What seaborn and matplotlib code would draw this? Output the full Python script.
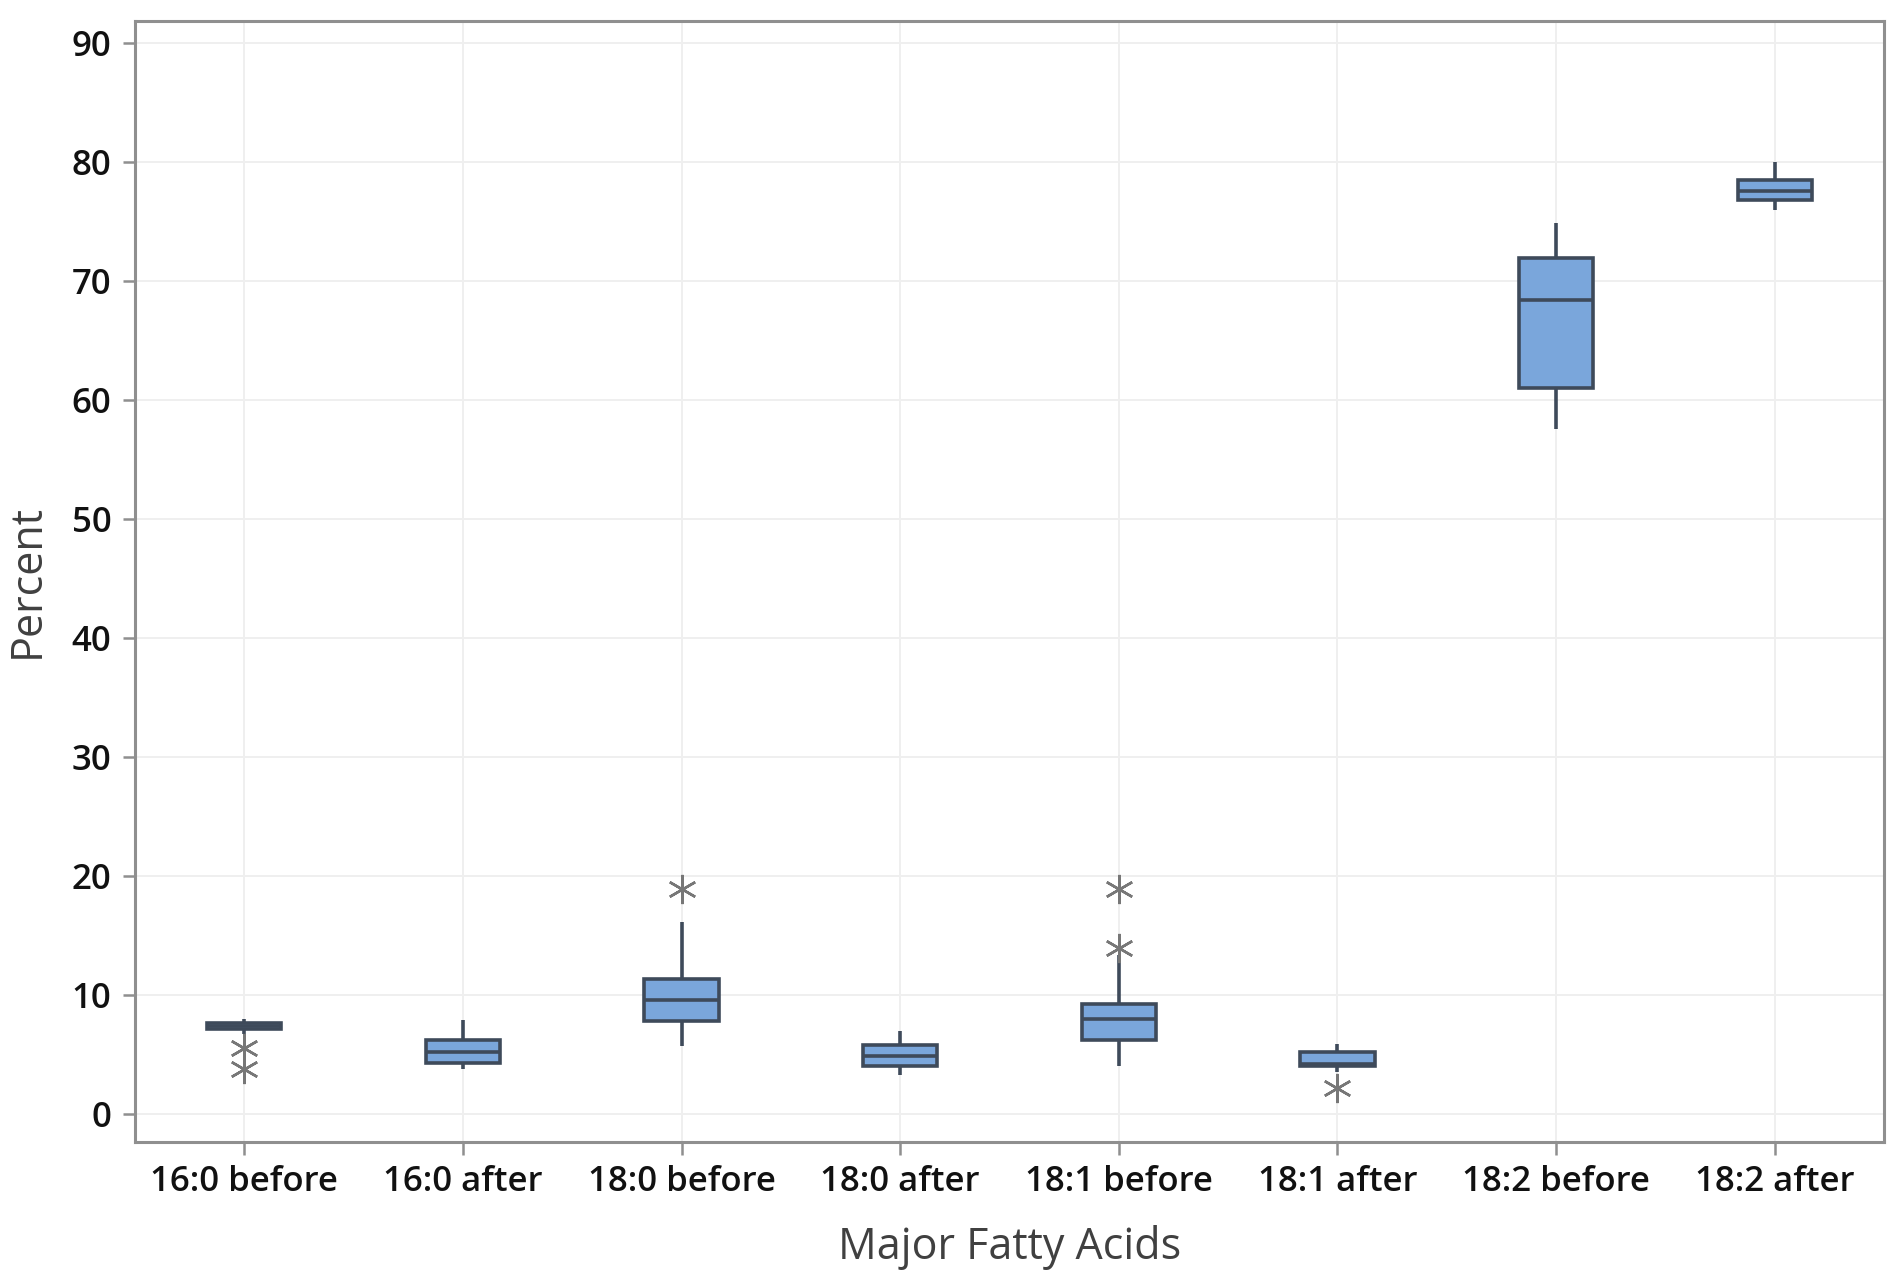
import numpy as np
import pandas as pd
import matplotlib
matplotlib.use("Agg")
import matplotlib.pyplot as plt
import seaborn as sns

# ---- data (Percent) ----
categories = ["16:0 before", "16:0 after", "18:0 before", "18:0 after",
              "18:1 before", "18:1 after", "18:2 before", "18:2 after"]
whisker_low  = [6.7, 3.8, 5.7, 3.3, 4.0, 3.55, 57.6, 76.0]
quartile_1   = [7.1, 4.25, 7.8, 4.0, 6.2, 4.05, 61.0, 76.8]
medians      = [7.35, 5.2, 9.6, 4.85, 7.95, 4.2, 68.4, 77.6]
quartile_3   = [7.65, 6.2, 11.3, 5.8, 9.2, 5.2, 72.0, 78.5]
whisker_high = [7.95, 7.9, 16.1, 7.0, 13.35, 5.9, 74.9, 80.0]
low_outliers  = [[5.5, 3.8], [], [], [], [], [2.2], [], []]
high_outliers = [[], [], [18.9], [], [13.9, 18.9], [], [], []]

# Build long-form samples made only of the read values, repeated so that
# numpy's linear quantiles land exactly on the read quartiles (n = 13).
rows = []
for i, cat in enumerate(categories):
    lo, hi = sorted(low_outliers[i]), sorted(high_outliers[i])
    m = 3
    n = 4 * m + 1
    vals = list(lo) + [whisker_low[i]]
    vals += [quartile_1[i]] * (m + 1 - len(vals))
    vals += [medians[i]] * m
    vals += [quartile_3[i]] * m
    vals += [whisker_high[i]] * (n - len(hi) - len(vals))
    vals += list(hi)
    for v in vals:
        rows.append((cat, v))
df = pd.DataFrame(rows, columns=["Acid", "Percent"])

# ---- style ----
sns.set_theme(style="white")
plt.rcParams["font.family"] = ["Open Sans", "DejaVu Sans"]

fig = plt.figure(figsize=(18.9, 12.75), dpi=100)
ax = fig.add_axes([135 / 1890, 1 - 1141.5 / 1275, (1884 - 135) / 1890, (1141.5 - 20.5) / 1275])

fill = "#7AA6DB"
edge = "#3E4A5A"

sns.boxplot(data=df, x="Acid", y="Percent", order=categories, ax=ax,
            color=fill, saturation=1, width=0.34, whis=1.5,
            linewidth=2.6, linecolor=edge, showcaps=False,
            flierprops=dict(marker=(6, 2, 0), markersize=21,
                            markeredgecolor="#777777", markerfacecolor="#777777",
                            markeredgewidth=1.8))

ax.set_axisbelow(True)
ax.grid(True, axis="both", color="#efefef", linewidth=1.4)
ax.xaxis.grid(True, color="#efefef", linewidth=1.4)

ax.set_xlim(-0.5, 7.5)
ax.set_ylim(-2.33, 91.93)
ax.set_yticks(np.arange(0, 91, 10))

for s in ax.spines.values():
    s.set_visible(True)
    s.set_color("#8f8f8f")
    s.set_linewidth(2.2)

ax.tick_params(axis="both", which="major", direction="out", length=9, width=1.8,
               color="#8f8f8f", labelsize=25, labelcolor="#111111", pad=8,
               left=True, bottom=True)
for lab in ax.get_xticklabels() + ax.get_yticklabels():
    lab.set_fontweight("semibold")

ax.set_xlabel("Major Fatty Acids", fontsize=31, color="#404040", va="center",
              fontweight="medium")
ax.set_ylabel("Percent", fontsize=31, color="#404040", va="center",
              fontweight="medium")
ax.xaxis.set_label_coords(0.5, -0.0947)
ax.yaxis.set_label_coords(-0.0613, 0.5)

fig.savefig("out.png", dpi=100, facecolor="white")
